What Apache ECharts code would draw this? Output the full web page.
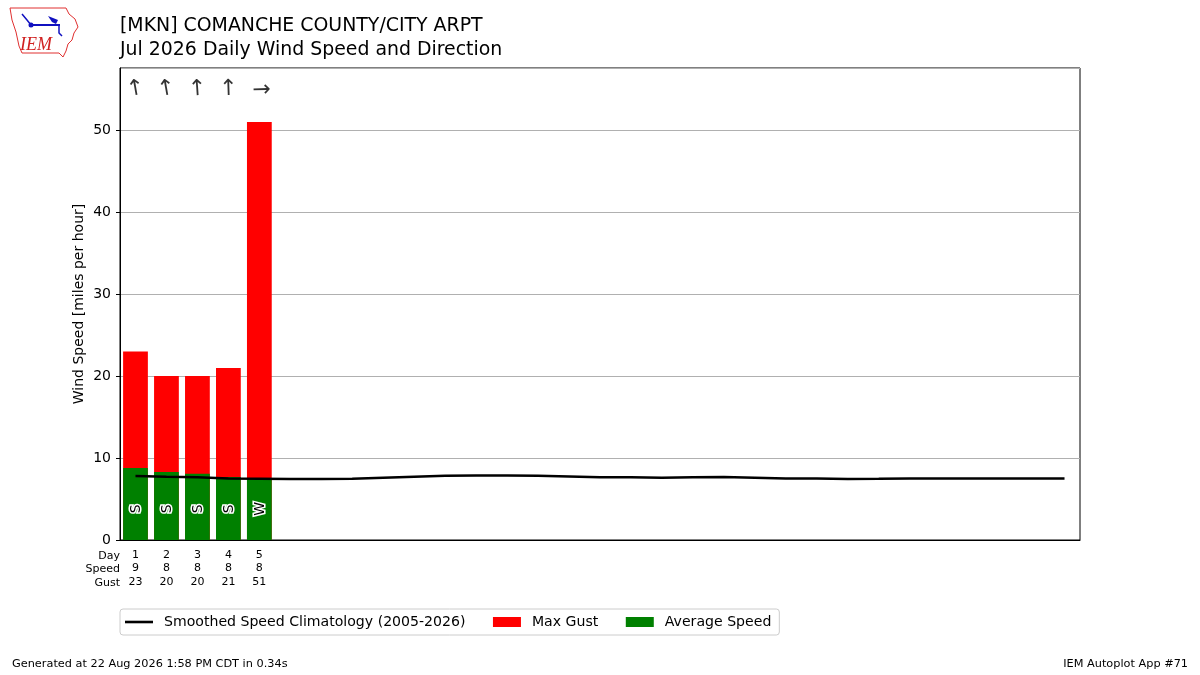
<!DOCTYPE html>
<html>
<head>
<meta charset="utf-8">
<script src="https://cdn.jsdelivr.net/npm/echarts@6/dist/echarts.min.js"></script>
<style>
  html, body { margin: 0; padding: 0; background: #fff; }
  #main { width: 1200px; height: 675px; }
</style>
</head>
<body>
<div id="main"></div>
<script>
// days of the month (July has 31)
const days = [];
for (let d = 1; d <= 31; d++) days.push(d);

// observed days only
const maxGust = [23, 20, 20, 21, 51];
const avgSpeed = [8.8, 8.3, 8.1, 7.7, 7.5];
const dirText = ['S', 'S', 'S', 'S', 'W'];
const dirDeg = [170, 170, 176, 178, 268];

// smoothed climatology, one per day
const climo = [7.80, 7.72, 7.65, 7.52, 7.48, 7.44, 7.44, 7.46, 7.60, 7.72,
               7.84, 7.88, 7.88, 7.84, 7.76, 7.65, 7.65, 7.60, 7.65, 7.68,
               7.60, 7.52, 7.52, 7.44, 7.46, 7.52, 7.52, 7.52, 7.52, 7.52, 7.52];

const yTicks = [0, 10, 20, 30, 40, 50];

const FONT = 'DejaVu Sans';
const ARROW_Y = 55;
const LABEL_Y = 3.8;

const chart = echarts.init(document.getElementById('main'), null, { renderer: 'canvas' });

const nObs = maxGust.length;
const xLabels = days.map(function (d, i) {
    if (i < nObs) return d + '\n' + Math.round(avgSpeed[i]) + '\n' + maxGust[i];
    return '';
});

// compass text inside green bars, black with a white halo
function renderDirLabel(params, api) {
    const p = api.coord([api.value(0), api.value(1)]);
    const txt = dirText[params.dataIndex];
    const base = {
        text: txt,
        font: '14px "DejaVu Sans"',
        align: 'center',
        verticalAlign: 'middle'
    };
    return {
        type: 'group',
        children: [
            {
                type: 'text', x: p[0] + 1, y: p[1], rotation: Math.PI / 2,
                style: Object.assign({}, base, { fill: '#fff', stroke: '#fff', lineWidth: 3 })
            },
            {
                type: 'text', x: p[0] + 1, y: p[1], rotation: Math.PI / 2,
                style: Object.assign({}, base, { fill: '#000' })
            }
        ]
    };
}

const option = {
    animation: false,
    backgroundColor: '#fff',
    textStyle: { fontFamily: FONT },
    grid: {
        left: 120, right: 120, top: 68, bottom: 135,
        show: true, borderColor: '#000', borderWidth: 1
    },
    xAxis: {
        type: 'category',
        data: xLabels,
        boundaryGap: true,
        axisLine: { lineStyle: { color: '#000' } },
        axisTick: {
            alignWithLabel: true,
            length: 4,
            lineStyle: { color: '#000' },
            interval: function (idx) { return idx < nObs; }
        },
        axisLabel: {
            interval: 0,
            fontSize: 11,
            lineHeight: 13.5,
            color: '#000',
            margin: 8,
            fontFamily: FONT
        },
        splitLine: { show: false }
    },
    yAxis: {
        type: 'value',
        min: 0,
        max: 57.6,
        interval: 10,
        name: 'Wind Speed [miles per hour]',
        nameLocation: 'middle',
        nameGap: 34,
        nameMoveOverlap: false,
        nameTextStyle: { fontSize: 14, color: '#000', fontFamily: FONT },
        axisLine: { show: true, lineStyle: { color: '#000' } },
        axisTick: { show: true, length: 4, lineStyle: { color: '#000' } },
        axisLabel: {
            fontSize: 14, color: '#000', margin: 9, fontFamily: FONT,
            showMaxLabel: false,
            formatter: function (v) { return yTicks.indexOf(v) >= 0 ? String(v) : ''; }
        },
        splitLine: { show: true, lineStyle: { color: '#b0b0b0', width: 1 } }
    },
    legend: {
        left: 120,
        top: 609,
        orient: 'horizontal',
        padding: [6, 8, 6, 5],
        itemGap: 27.5,
        itemWidth: 28,
        itemHeight: 10,
        borderColor: '#cccccc',
        borderWidth: 1,
        borderRadius: 3,
        textStyle: { fontSize: 14.1, color: '#000', fontFamily: FONT, padding: [0, 0, 0, 6] },
        data: [{ name: 'Smoothed Speed Climatology (2005-2026)', icon: 'path://M0,0H28V2.6H0Z' },
               { name: 'Max Gust', icon: 'rect' },
               { name: 'Average Speed', icon: 'rect' }]
    },
    series: [
        {
            name: 'Max Gust',
            type: 'bar',
            data: maxGust,
            barWidth: '80%',
            barGap: '-100%',
            itemStyle: { color: '#ff0000' },
            z: 2
        },
        {
            name: 'Average Speed',
            type: 'bar',
            data: avgSpeed,
            barWidth: '80%',
            barGap: '-100%',
            itemStyle: { color: '#008000' },
            z: 3
        },
        {
            name: 'Smoothed Speed Climatology (2005-2026)',
            type: 'line',
            data: climo,
            symbol: 'none',
            smooth: false,
            lineStyle: { color: '#000', width: 2.5 },
            itemStyle: { color: '#000' },
            z: 5
        },
        {
            name: 'dirlabels',
            type: 'custom',
            silent: true,
            renderItem: renderDirLabel,
            data: dirText.map(function (t, i) { return [i, LABEL_Y]; }),
            z: 6
        },
        {
            name: 'arrows',
            type: 'scatter',
            symbolSize: 0,
            silent: true,
            data: dirDeg.map(function (deg, i) {
                return {
                    value: [i, ARROW_Y],
                    label: { rotate: 180 - deg }
                };
            }),
            label: {
                show: true,
                position: 'inside',
                fontSize: 22,
                color: '#000',
                fontFamily: FONT,
                formatter: '\u2191'
            },
            z: 6
        }
    ],
    graphic: [
        {
            type: 'text',
            left: 120, top: 14,
            style: {
                text: '[MKN] COMANCHE COUNTY/CITY ARPT\nJul 2026 Daily Wind Speed and Direction',
                fontSize: 18.9, lineHeight: 24, fill: '#000', fontFamily: FONT
            }
        },
        {
            type: 'text',
            x: 120, y: 549,
            style: {
                text: 'Day\nSpeed\nGust',
                align: 'right',
                fontSize: 11, lineHeight: 13.5, fill: '#000', fontFamily: FONT
            }
        },
        {
            type: 'text',
            left: 12, top: 659,
            style: { text: 'Generated at 22 Aug 2026 1:58 PM CDT in 0.34s', fontSize: 11.3, fill: '#000', fontFamily: FONT }
        },
        {
            type: 'text',
            right: 12, top: 659,
            style: { text: 'IEM Autoplot App #71', fontSize: 11.3, fill: '#000', fontFamily: FONT }
        },
        // IEM logo (rough sketch)
        {
            type: 'polygon',
            shape: {
                points: [[10, 8], [66, 8], [69, 14], [75, 19], [78, 27], [74, 33], [72, 40],
                         [68, 44], [66, 51], [63, 57], [59, 53], [22, 53], [19, 46], [16, 32], [12, 20]]
            },
            style: { fill: 'none', stroke: '#e03030', lineWidth: 1 }
        },
        {
            type: 'text',
            x: 20, y: 36,
            style: { text: 'IEM', fontSize: 18, fontStyle: 'italic', fontFamily: 'Liberation Serif', fill: '#d02020' }
        },
        {
            type: 'polyline',
            shape: { points: [[30, 25], [60, 25]] },
            style: { stroke: '#1010c0', lineWidth: 2 }
        },
        {
            type: 'circle',
            shape: { cx: 31, cy: 25, r: 2.5 },
            style: { fill: '#1010c0' }
        },
        {
            type: 'polyline',
            shape: { points: [[22, 14], [27, 20], [31, 25]] },
            style: { stroke: '#1010c0', lineWidth: 1.5 }
        },
        {
            type: 'polygon',
            shape: { points: [[48, 16], [58, 20], [56, 24], [52, 22]] },
            style: { fill: '#1010c0' }
        },
        {
            type: 'polyline',
            shape: { points: [[59, 25], [59, 33], [62, 36]] },
            style: { stroke: '#1010c0', lineWidth: 1.5 }
        }
    ]
};

chart.setOption(option);
</script>
</body>
</html>
